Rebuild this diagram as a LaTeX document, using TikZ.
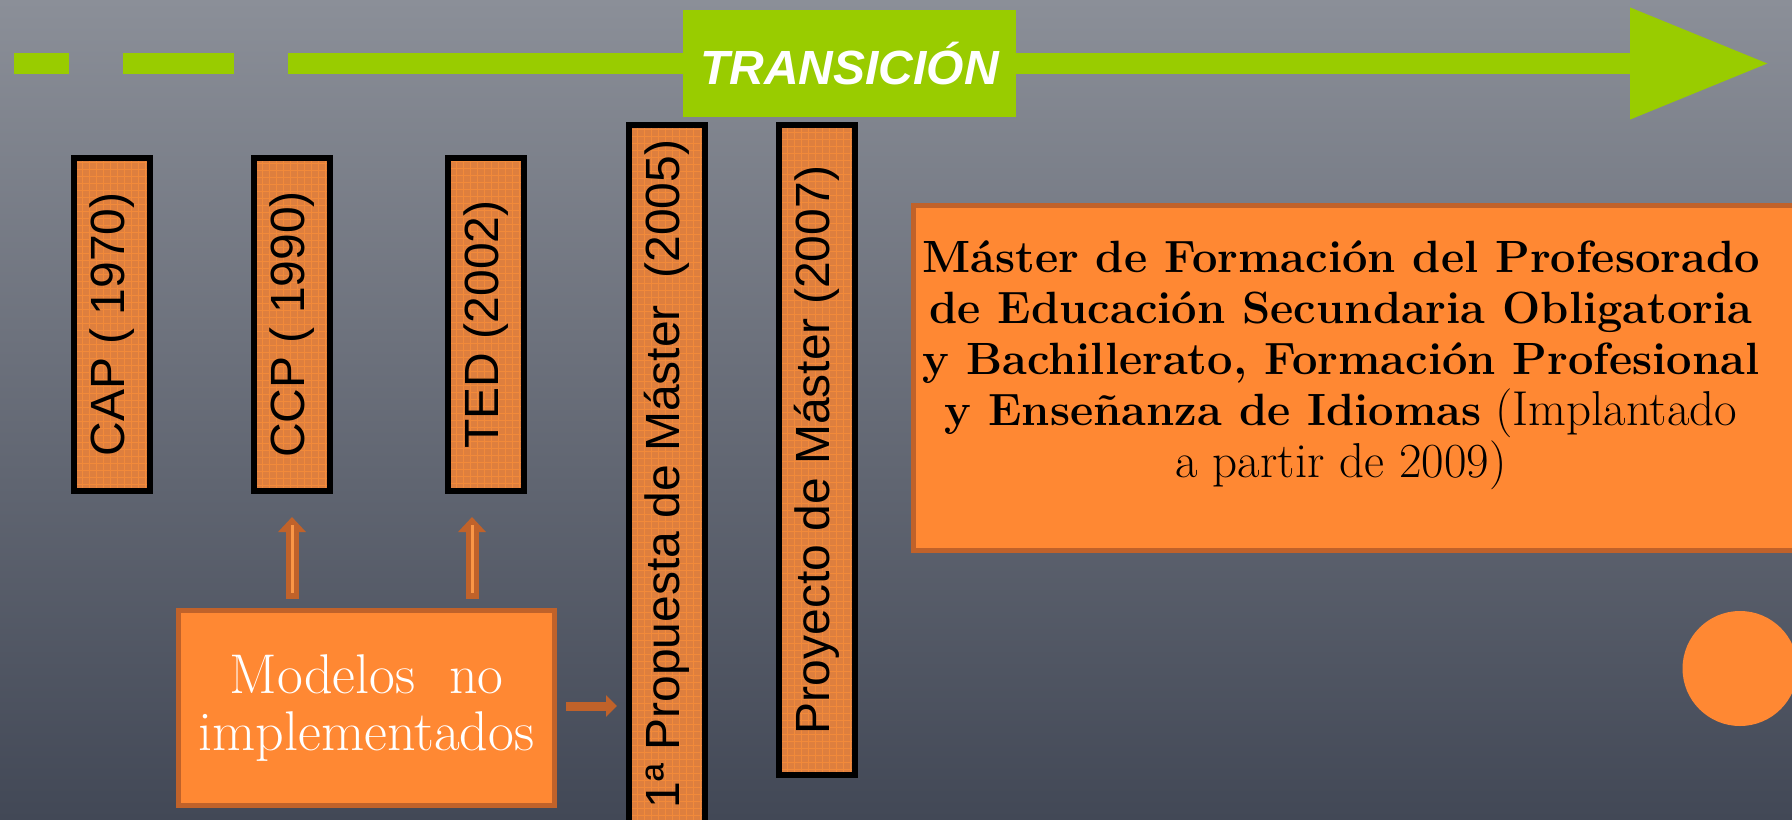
\documentclass[tikz,border=0pt]{standalone}
\usepackage{fontspec}
\newfontfamily\arialfont{Liberation Sans}
\usetikzlibrary{positioning}
\usetikzlibrary{arrows.meta}
\usetikzlibrary{calc}

\definecolor{bgtop}{RGB}{139,143,152}
\definecolor{bgbottom}{RGB}{66,72,86}
\definecolor{limegreen}{RGB}{153,204,0}
\definecolor{brightorange}{RGB}{255,136,51}
\definecolor{darkorange}{RGB}{192,98,42}
\definecolor{paleorange}{RGB}{250,150,70}
\definecolor{boxorange}{RGB}{222,127,62}
\definecolor{gridorange}{RGB}{242,138,58}

\newcommand{\plaintext}[1]{{\fontsize{24.5}{25.6}\selectfont #1}}

\tikzset{
  yearbox/.style={draw=black, line width=3pt, fill=boxorange, rotate=90,
    minimum height=38pt, inner sep=0pt,
    font=\arialfont\fontsize{24}{28}\selectfont,
    path picture={\draw[gridorange, line width=0.4pt]
      (path picture bounding box.south west) grid[step=3.5pt]
      (path picture bounding box.north east);}},
  orangebox/.style={draw=darkorange, line width=2.5pt, fill=brightorange, inner sep=0pt},
  greenbar/.style={limegreen, line width=10.5pt},
  uparrow/.style={darkorange, line width=6.5pt, -{Triangle[length=7.5pt,width=13.5pt]}},
  upstripe/.style={paleorange, line width=1.5pt},
  rightarrow/.style={darkorange, line width=4.5pt, -{Triangle[length=5.5pt,width=10.5pt]}}
}

\begin{document}
\begin{tikzpicture}[x=0.5pt,y=-0.5pt]
\useasboundingbox (0,0) rectangle (1792,819);
\clip (0,0) rectangle (1792,819);
\shade[top color=bgtop, bottom color=bgbottom] (0,0) rectangle (1792,819);

% timeline
\draw[greenbar] (14,63.5) -- (69,63.5);
\draw[greenbar] (123,63.5) -- (234,63.5);
\draw[greenbar, -{Triangle[length=69.5pt,width=53pt]}] (288,63.5) -- (1769,63.5);
\node[fill=limegreen, minimum width=166.5pt, minimum height=53.5pt, inner sep=0pt,
  text=white, font=\arialfont\bfseries\itshape\fontsize{24}{28}\selectfont]
  (transicion) at (849.5,63.5) {TRANSICIÓN};

% year boxes
\node[yearbox, minimum width=166.5pt] (cap) at (111.7,324.5) {CAP ( 1970)};
\node[yearbox, minimum width=166.5pt] (ccp) at (292,324.5) {CCP ( 1990)};
\node[yearbox, minimum width=166.5pt] (ted) at (486,324.5) {TED (2002)};
\node[yearbox, minimum width=349pt] (propuesta) at (667,474) {1ª Propuesta de Máster\ \ (2005)};
\node[yearbox, minimum width=325pt] (proyecto) at (817,450) {Proyecto de Máster (2007)};

\node[orangebox, minimum width=188pt, minimum height=97.5pt, text=white, align=center,
  font=\fontsize{28}{28.5}\selectfont] (modelos) at (366.5,708) {Modelos\ \ no\\implementados};

\node[orangebox, minimum width=443pt, minimum height=172.5pt] (masterbox) at (1356.5,378) {};
\node[align=center, inner sep=0pt, anchor=north, font=\fontsize{22.6}{25.6}\selectfont]
  (master) at (1341,240) {\textbf{Máster de Formación del Profesorado}\\
  \textbf{de Educación Secundaria Obligatoria}\\
  \textbf{y Bachillerato, Formación Profesional}\\
  \textbf{y Enseñanza de Idiomas} \plaintext{(Implantado}\\
  \plaintext{a partir de 2009)}};

\node[circle, fill=brightorange, minimum size=57.5pt, inner sep=0pt] (dot) at (1740,668.5) {};

% arrows
\coordinate (upa) at ($(modelos.north -| ccp)+(0,-9)$);
\coordinate (upb) at ($(ccp.west)+(0,23)$);
\coordinate (upc) at ($(modelos.north -| ted)+(-14,-9)$);
\coordinate (upd) at ($(ted.west)+(-14,23)$);
\draw[uparrow] (upa) -- (upb);
\draw[upstripe] ($(upa)+(0,-6)$) -- ($(upb)+(0,8)$);
\draw[uparrow] (upc) -- (upd);
\draw[upstripe] ($(upc)+(0,-6)$) -- ($(upd)+(0,8)$);
\draw[rightarrow] ($(modelos.east)+(9,-2)$) -- ($(modelos.east -| propuesta.north)+(-9,-2)$);
\end{tikzpicture}
\end{document}
